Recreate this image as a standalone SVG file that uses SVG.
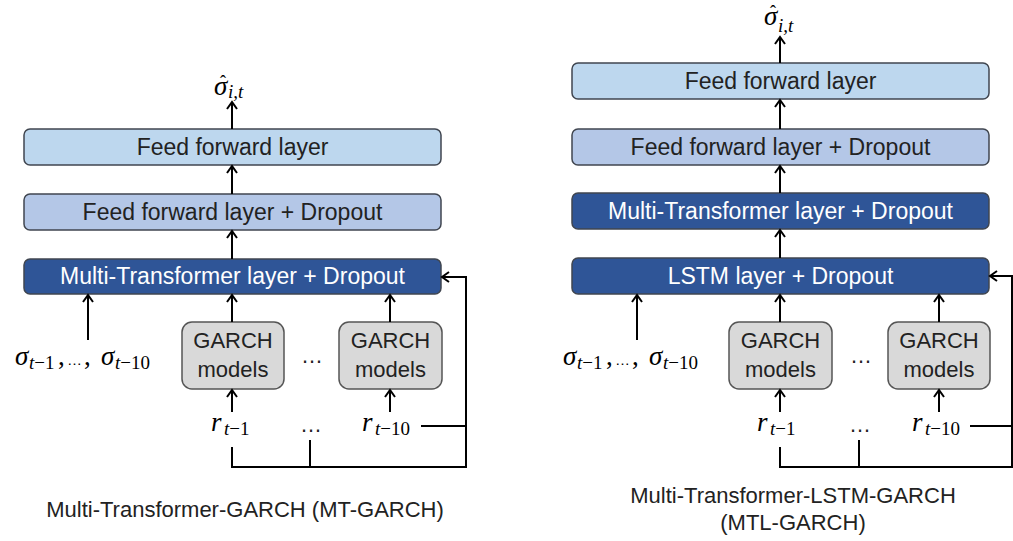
<svg xmlns="http://www.w3.org/2000/svg" width="1013" height="541" viewBox="0 0 1013 541">
  <defs>
    <marker id="arrow" markerUnits="userSpaceOnUse" markerWidth="20" markerHeight="20" refX="0" refY="0" orient="auto" overflow="visible">
      <path d="M-7,-5 L0,0 L-7,5" fill="none" stroke="#000" stroke-width="2"/>
    </marker>
    <style>
      .layer { stroke: #404650; stroke-width: 1.5; }
      .ff { fill: #BDD7EE; }
      .ffd { fill: #B4C7E7; }
      .dark { fill: #2F5597; }
      .garch { fill: #D9D9D9; stroke: #555; stroke-width: 1.5; }
      .lbl { font-family: "Liberation Sans", Arial, sans-serif; font-size: 23px; text-anchor: middle; fill: #222; }
      .lbl.w { fill: #ffffff; }
      .gl { font-family: "Liberation Sans", Arial, sans-serif; font-size: 22px; text-anchor: middle; fill: #222; }
      .dots { font-family: "Liberation Sans", Arial, sans-serif; font-size: 15px; fill: #000; }
      .cap { font-family: "Liberation Sans", Arial, sans-serif; font-size: 22px; text-anchor: middle; fill: #222; }
      .math { font-family: "Liberation Serif", "Times New Roman", serif; font-size: 27px; fill: #000; }
      .hat { font-family: "Liberation Serif", "Times New Roman", serif; font-size: 18px; text-anchor: middle; fill: #000; }
      .it { font-style: italic; }
      .sub { font-size: 19px; }
      .conn { fill: none; stroke: #000; stroke-width: 2; }
      .arr { marker-end: url(#arrow); }
    </style>
  </defs>

  <!-- ===== Left model: MT-GARCH ===== -->
  <g id="mt-output">
    <text class="math it" x="214" y="95" font-size="25">σ</text>
    <text class="hat" x="223" y="88">ˆ</text>
    <text class="math it sub" x="228" y="98" font-size="18">i,t</text>
  </g>
  <g id="mt-ff">
    <rect class="layer ff" x="24" y="129" width="417" height="36" rx="6"/>
    <text class="lbl" x="232.5" y="155">Feed forward layer</text>
  </g>
  <g id="mt-ffd">
    <rect class="layer ffd" x="24" y="194" width="417" height="36" rx="6"/>
    <text class="lbl" x="232.5" y="220">Feed forward layer + Dropout</text>
  </g>
  <g id="mt-transformer">
    <rect class="layer dark" x="24" y="259" width="417" height="35" rx="6"/>
    <text class="lbl w" x="232.5" y="284">Multi-Transformer layer + Dropout</text>
  </g>
  <g id="mt-sigma-inputs">
    <text class="math it" x="15" y="365">σ</text>
    <text class="math sub" x="29" y="369"><tspan class="it">t</tspan>−1</text>
    <text class="math" x="58" y="365">,</text>
    <text class="dots" x="67" y="365">…</text>
    <text class="math" x="84" y="365">,</text>
    <text class="math it" x="101" y="365">σ</text>
    <text class="math sub" x="115" y="369"><tspan class="it">t</tspan>−10</text>
  </g>
  <g id="mt-garch-1">
    <rect class="garch" x="182" y="322" width="102" height="67" rx="10"/>
    <text class="gl" x="233" y="348">GARCH</text>
    <text class="gl" x="233" y="377">models</text>
  </g>
  <text class="gl" x="312" y="363">…</text>
  <g id="mt-garch-2">
    <rect class="garch" x="339" y="322" width="103" height="67" rx="10"/>
    <text class="gl" x="390.5" y="348">GARCH</text>
    <text class="gl" x="390.5" y="377">models</text>
  </g>
  <g id="mt-returns">
    <text class="math it" x="211" y="431" font-size="28">r</text>
    <text class="math sub" x="224" y="435"><tspan class="it">t</tspan>−1</text>
    <text class="gl" x="311" y="432">…</text>
    <text class="math it" x="362" y="431" font-size="28">r</text>
    <text class="math sub" x="375" y="435"><tspan class="it">t</tspan>−10</text>
  </g>
  <text class="cap" x="245" y="517">Multi-Transformer-GARCH (MT-GARCH)</text>

  <!-- ===== Right model: MTL-GARCH ===== -->
  <g id="mtl-output">
    <text class="math it" x="764" y="25" font-size="25">σ</text>
    <text class="hat" x="773" y="18">ˆ</text>
    <text class="math it sub" x="778" y="32" font-size="18">i,t</text>
  </g>
  <g id="mtl-ff">
    <rect class="layer ff" x="572" y="63" width="417" height="36" rx="6"/>
    <text class="lbl" x="780.5" y="89">Feed forward layer</text>
  </g>
  <g id="mtl-ffd">
    <rect class="layer ffd" x="572" y="129" width="417" height="36" rx="6"/>
    <text class="lbl" x="780.5" y="155">Feed forward layer + Dropout</text>
  </g>
  <g id="mtl-transformer">
    <rect class="layer dark" x="572" y="193" width="417" height="36" rx="6"/>
    <text class="lbl w" x="780.5" y="219">Multi-Transformer layer + Dropout</text>
  </g>
  <g id="mtl-lstm">
    <rect class="layer dark" x="572" y="258" width="417" height="36" rx="6"/>
    <text class="lbl w" x="780.5" y="284">LSTM layer + Dropout</text>
  </g>
  <g id="mtl-sigma-inputs">
    <text class="math it" x="563" y="365">σ</text>
    <text class="math sub" x="577" y="369"><tspan class="it">t</tspan>−1</text>
    <text class="math" x="606" y="365">,</text>
    <text class="dots" x="615" y="365">…</text>
    <text class="math" x="632" y="365">,</text>
    <text class="math it" x="649" y="365">σ</text>
    <text class="math sub" x="663" y="369"><tspan class="it">t</tspan>−10</text>
  </g>
  <g id="mtl-garch-1">
    <rect class="garch" x="729" y="322" width="103" height="67" rx="10"/>
    <text class="gl" x="780.5" y="348">GARCH</text>
    <text class="gl" x="780.5" y="377">models</text>
  </g>
  <text class="gl" x="861" y="363">…</text>
  <g id="mtl-garch-2">
    <rect class="garch" x="888" y="322" width="102" height="67" rx="10"/>
    <text class="gl" x="939" y="348">GARCH</text>
    <text class="gl" x="939" y="377">models</text>
  </g>
  <g id="mtl-returns">
    <text class="math it" x="757" y="431" font-size="28">r</text>
    <text class="math sub" x="770" y="435"><tspan class="it">t</tspan>−1</text>
    <text class="gl" x="860" y="432">…</text>
    <text class="math it" x="912" y="431" font-size="28">r</text>
    <text class="math sub" x="925" y="435"><tspan class="it">t</tspan>−10</text>
  </g>
  <text class="cap" x="793" y="503">Multi-Transformer-LSTM-GARCH</text>
  <text class="cap" x="793" y="530">(MTL-GARCH)</text>

  <!-- ===== Connectors ===== -->
  <g id="connectors">
    <!-- left -->
    <path class="conn arr" d="M232,129 V102"/>
    <path class="conn arr" d="M232,194 V166"/>
    <path class="conn arr" d="M232,259 V231"/>
    <path class="conn arr" d="M88,340 V295"/>
    <path class="conn arr" d="M232,322 V295"/>
    <path class="conn arr" d="M390,322 V295"/>
    <path class="conn arr" d="M232,412 V390"/>
    <path class="conn arr" d="M390,412 V390"/>
    <path class="conn arr" d="M232,447 V467 H466 V277 H442"/>
    <path class="conn" d="M310,440 V467"/>
    <path class="conn" d="M421,426 H466"/>
    <!-- right -->
    <path class="conn arr" d="M780,63 V37"/>
    <path class="conn arr" d="M780,129 V100"/>
    <path class="conn arr" d="M780,193 V166"/>
    <path class="conn arr" d="M780,258 V230"/>
    <path class="conn arr" d="M637,340 V295"/>
    <path class="conn arr" d="M780,322 V295"/>
    <path class="conn arr" d="M939,322 V295"/>
    <path class="conn arr" d="M780,412 V390"/>
    <path class="conn arr" d="M939,412 V390"/>
    <path class="conn arr" d="M780,447 V467 H1012 V276 H990"/>
    <path class="conn" d="M859,440 V467"/>
    <path class="conn" d="M970,426 H1012"/>
  </g>
</svg>
